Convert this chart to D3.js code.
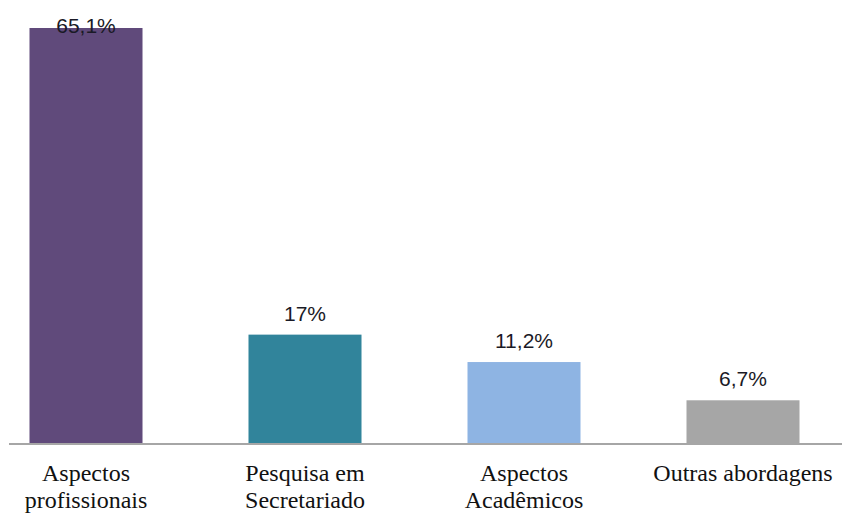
<!DOCTYPE html>
<html>
<head>
<meta charset="utf-8">
<script src="https://cdn.jsdelivr.net/npm/d3@7"></script>
<style>
  html, body { margin: 0; padding: 0; background: #ffffff; }
  svg { display: block; }
</style>
</head>
<body>
<svg id="chart" width="842" height="516"></svg>
<script>
const categories = ["Aspectos\nprofissionais", "Pesquisa em\nSecretariado", "Aspectos\nAcadêmicos", "Outras abordagens"];
const values = [65.1, 17, 12.7, 6.7];
const valueLabels = ["65,1%", "17%", "11,2%", "6,7%"];
const colors = ["#604A7B", "#31849B", "#8EB4E3", "#A6A6A6"];

const svg = d3.select("#chart");
const baseY = 443, topY = 28;

const x = d3.scaleBand().domain(categories).range([-23.5, 852.5]).paddingInner(0.484).paddingOuter(0.242);
const y = d3.scaleLinear().domain([0, 65.1]).range([baseY, topY]);

svg.selectAll("rect.bar").data(categories).enter().append("rect")
  .attr("class", "bar")
  .attr("x", d => x(d))
  .attr("width", x.bandwidth())
  .attr("y", (d, i) => y(values[i]))
  .attr("height", (d, i) => baseY - y(values[i]))
  .attr("fill", (d, i) => colors[i]);

// axis baseline
svg.append("line")
  .attr("x1", 9).attr("x2", 842)
  .attr("y1", baseY + 1).attr("y2", baseY + 1)
  .attr("stroke", "#A6A6A6").attr("stroke-width", 2);

// value labels
svg.selectAll("text.val").data(categories).enter().append("text")
  .attr("class", "val")
  .attr("x", d => x(d) + x.bandwidth() / 2)
  .attr("y", (d, i) => Math.max(y(values[i]) - 14, 33))
  .attr("text-anchor", "middle")
  .attr("font-family", "Liberation Sans, Arial, sans-serif")
  .attr("font-size", 21)
  .attr("fill", "#1a1a26")
  .text((d, i) => valueLabels[i]);

// category labels
const cat = svg.selectAll("text.cat").data(categories).enter().append("text")
  .attr("class", "cat")
  .attr("text-anchor", "middle")
  .attr("font-family", "Liberation Serif, 'Times New Roman', serif")
  .attr("font-size", 24)
  .attr("fill", "#111");
cat.each(function(d) {
  const t = d3.select(this);
  const cx = x(d) + x.bandwidth() / 2;
  d.split("\n").forEach((line, j) => {
    t.append("tspan").attr("x", cx).attr("y", 481 + j * 27).text(line);
  });
});
</script>
</body>
</html>
